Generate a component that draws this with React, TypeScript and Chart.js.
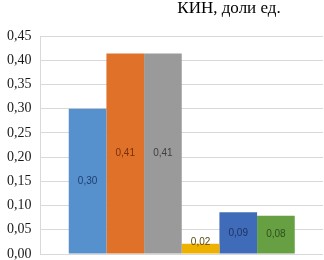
import { useEffect, useRef } from 'react';
import { Chart, registerables } from 'chart.js';

Chart.register(...registerables);

const titleText = 'КИН, доли ед.';
const categories = ['КИН'];
const seriesNames = ['Ряд 1', 'Ряд 2', 'Ряд 3', 'Ряд 4', 'Ряд 5', 'Ряд 6'];
const seriesValues = [0.3, 0.414, 0.414, 0.021, 0.086, 0.079];
const seriesColors = ['#5791CD', '#E07129', '#9A9A9A', '#EEB100', '#3F6BB9', '#66A043'];
const labelColors = ['#1F3E6E', '#7A2E0A', '#3F3F3F', '#5A4A10', '#1E3464', '#2F4F1C'];
const yMin = 0;
const yMax = 0.45;
const yStep = 0.05;

const fmt = (v: number) => v.toFixed(2).replace('.', ',');

const barLabels = {
  id: 'barLabels',
  afterDraw(chart: any) {
    const ctx = chart.ctx;
    chart.data.datasets.forEach((ds: any, i: number) => {
      const meta = chart.getDatasetMeta(i);
      meta.data.forEach((bar: any, j: number) => {
        const v = ds.data[j] as number;
        const { x, y, base } = bar.getProps(['x', 'y', 'base'], true);
        const ly = Math.min((y + base) / 2, base - 11);
        ctx.save();
        ctx.font = '10px Liberation Sans';
        ctx.fillStyle = labelColors[i];
        ctx.textAlign = 'center';
        ctx.textBaseline = 'middle';
        ctx.fillText(fmt(v), x, ly);
        ctx.restore();
      });
    });
  },
};

export default function App() {
  const ref = useRef<HTMLCanvasElement>(null);
  useEffect(() => {
    if (!ref.current) return;
    const chart = new Chart(ref.current, {
      type: 'bar',
      data: {
        labels: categories,
        datasets: seriesNames.map((name, i) => ({
          label: name,
          data: [seriesValues[i]],
          backgroundColor: seriesColors[i],
          borderWidth: 0,
          yAxisID: 'y',
          xAxisID: 'x',
        })),
      },
      options: {
        animation: false,
        responsive: true,
        maintainAspectRatio: false,
        plugins: {
          legend: { display: false },
          tooltip: { enabled: false },
          title: {
            display: true,
            text: titleText,
            color: '#000',
            font: { family: 'Liberation Serif', size: 17, weight: '', style: '', lineHeight: 1.0 },
            padding: { top: 0, bottom: 19 },
          },
        },
        datasets: { bar: { categoryPercentage: 0.8, barPercentage: 1 } },
        scales: {
          x: {
            display: false,
            grid: { display: false },
          },
          y: {
            min: yMin,
            max: yMax,
            position: 'left',
            afterFit: (s: any) => {
              s.paddingBottom = 6;
            },
            ticks: {
              stepSize: yStep,
              color: '#1a1a1a',
              padding: 9,
              font: { family: 'Liberation Serif', size: 14, style: '', weight: '' },
              callback: (v: any) => fmt(Number(v)),
            },
            grid: { color: '#D9D9D9', lineWidth: 1, drawTicks: false },
            border: { display: true, color: '#D9D9D9' },
          },
          pad: {
            type: 'linear',
            position: 'right',
            display: true,
            grid: { display: false, drawTicks: false },
            ticks: { display: false },
            border: { display: false },
            afterFit: (s: any) => {
              s.width = 137;
            },
          },
        },
      } as any,
      plugins: [barLabels],
    });
    const timers = [30, 120, 300, 700].map((t) => setTimeout(() => chart.update('none'), t));
    const fonts = (document as any).fonts;
    if (fonts && fonts.ready) fonts.ready.then(() => chart.update('none')).catch(() => null);
    return () => {
      timers.forEach((t) => clearTimeout(t));
      chart.destroy();
    };
  }, []);
  return (
    <div style={{ position: 'fixed', left: 0, top: 0, width: 324, height: 260, overflow: 'hidden', background: '#fff' }}>
      <div style={{ position: 'absolute', left: -2, top: 0, width: 462, height: 260 }}>
        <canvas ref={ref} />
      </div>
    </div>
  );
}
